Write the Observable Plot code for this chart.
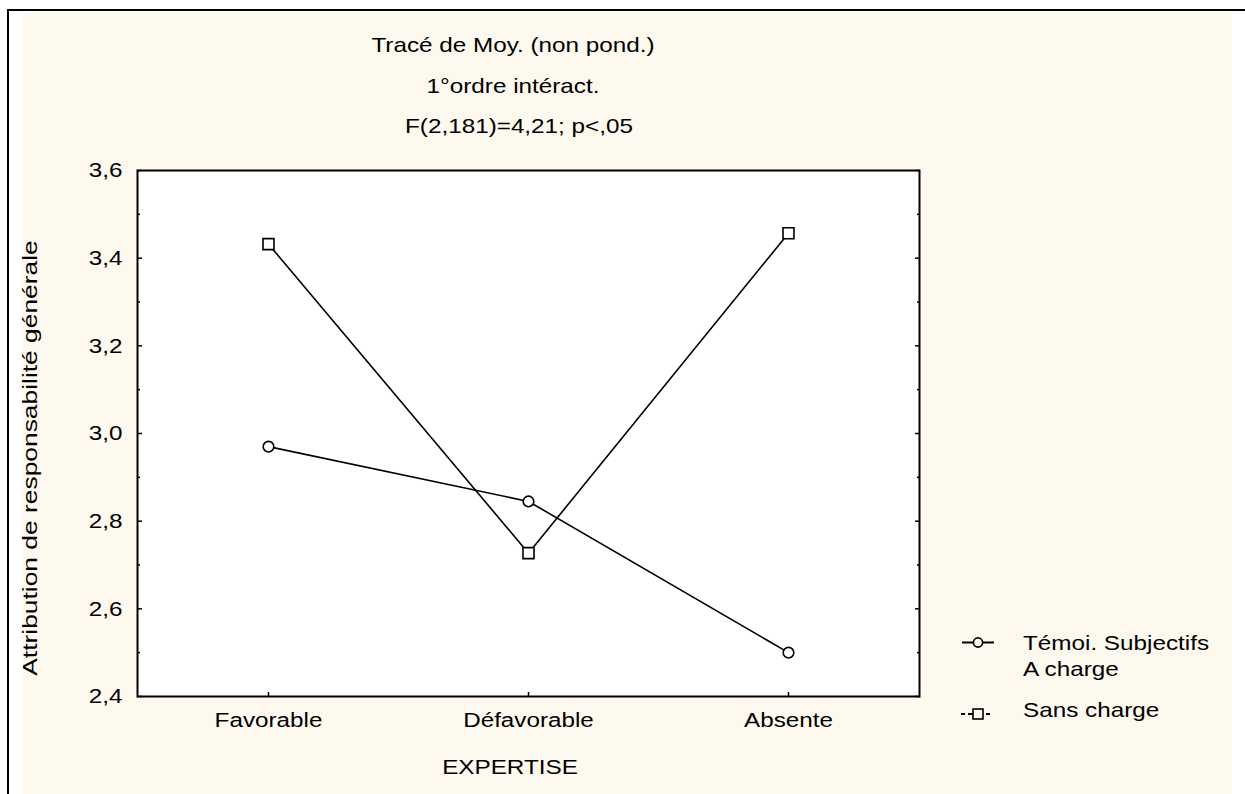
<!DOCTYPE html>
<html><head><meta charset="utf-8">
<script src="https://cdn.jsdelivr.net/npm/d3@7"></script>
<script src="https://cdn.jsdelivr.net/npm/@observablehq/plot@0.6"></script>
<style>
body{margin:0;background:#fff;font-family:"Liberation Sans",Arial,sans-serif;}
#wrap{position:relative;width:1245px;height:794px;overflow:hidden;background:#fff;}
.bd{position:absolute;background:#000;}
#cream{position:absolute;left:23px;top:13px;width:1209px;height:781px;background:#fdf9ef;}
.t{position:absolute;font-size:21px;line-height:21px;color:#000;white-space:nowrap;}
.c{transform:translateX(-50%) scaleX(1.155);}
.l{transform-origin:0 0;transform:scaleX(1.155);}
#chart{position:absolute;left:0;top:0;}
</style></head>
<body>
<div id="wrap">
  <div class="bd" style="left:7px;top:9px;width:1238px;height:2px;"></div>
  <div class="bd" style="left:7px;top:9px;width:2px;height:785px;"></div>
  <div id="cream"></div>
  <div id="chart"></div>
  <div class="t c" style="left:513px;top:34px;">Tracé de Moy. (non pond.)</div>
  <div class="t c" style="left:513px;top:75px;">1°ordre intéract.</div>
  <div class="t c" style="left:519px;top:115px;">F(2,181)=4,21; p&lt;,05</div>
  <div class="t c" style="left:510px;top:756px;">EXPERTISE</div>
  <div class="t" style="left:29px;top:458px;transform:translate(-50%,-50%) rotate(-90deg) scaleX(1.256);">Attribution de responsabilité générale</div>
  <svg style="position:absolute;left:950px;top:630px;" width="50" height="100" viewBox="950 630 50 100">
    <line x1="962" x2="994" y1="642.5" y2="642.5" stroke="#000" stroke-width="2"/>
    <circle cx="978" cy="642.5" r="4.6" fill="#fdf9ef" stroke="#000" stroke-width="1.6"/>
    <line x1="961" x2="965" y1="714" y2="714" stroke="#000" stroke-width="2"/>
    <line x1="968" x2="973" y1="714" y2="714" stroke="#000" stroke-width="2"/>
    <line x1="986" x2="990" y1="714" y2="714" stroke="#000" stroke-width="2"/>
    <rect x="973" y="709" width="10" height="10" fill="#fdf9ef" stroke="#000" stroke-width="1.6"/>
  </svg>
  <div class="t l" style="left:1023px;top:632px;">Témoi. Subjectifs</div>
  <div class="t l" style="left:1023px;top:658px;">A charge</div>
  <div class="t l" style="left:1023px;top:699px;">Sans charge</div>
</div>
<script>
const categories = ["Favorable", "Défavorable", "Absente"];
const temoiACharge = [2.97, 2.845, 2.50];
const sansCharge = [3.432, 2.727, 3.457];
const yMajorTicks = [2.4, 2.6, 2.8, 3.0, 3.2, 3.4, 3.6];
const yMinorTicks = [2.5, 2.7, 2.9, 3.1, 3.3, 3.5];

const rowsA = categories.map((c, i) => ({cat: c, v: temoiACharge[i]}));
const rowsS = categories.map((c, i) => ({cat: c, v: sansCharge[i]}));
const fmt = d => d.toFixed(1).replace(".", ",");

const chart = Plot.plot({
  width: 1245, height: 794,
  marginLeft: 137, marginRight: 326, marginTop: 170, marginBottom: 98,
  style: {background: "transparent", fontFamily: "'Liberation Sans', Arial, sans-serif", fontSize: "21px", color: "#000", overflow: "visible"},
  x: {type: "point", domain: categories, padding: 0.5, label: null},
  y: {domain: [2.4, 3.6], label: null},
  marks: [
    Plot.frame({fill: "white", stroke: null}),
    Plot.line(rowsA, {x: "cat", y: "v", stroke: "black", strokeWidth: 1.6}),
    Plot.line(rowsS, {x: "cat", y: "v", stroke: "black", strokeWidth: 1.6}),
    Plot.dot(rowsA, {x: "cat", y: "v", r: 5.3, fill: "white", stroke: "black", strokeWidth: 1.6}),
    Plot.dot(rowsS, {x: "cat", y: "v", symbol: "square", r: 6.2, fill: "white", stroke: "black", strokeWidth: 1.6}),
    Plot.frame({stroke: "black", strokeWidth: 2}),
    Plot.axisY(yMajorTicks, {anchor: "left", tickSize: -5, tickPadding: 20, tickFormat: fmt, label: null, stroke: "black", strokeWidth: 1.5}),
    Plot.axisY(yMinorTicks, {anchor: "left", tickSize: -3, tickFormat: () => "", label: null, stroke: "black", strokeWidth: 1.5}),
    Plot.axisY(yMajorTicks, {anchor: "right", tickSize: -5, tickFormat: () => "", label: null, stroke: "black", strokeWidth: 1.5}),
    Plot.axisY(yMinorTicks, {anchor: "right", tickSize: -3, tickFormat: () => "", label: null, stroke: "black", strokeWidth: 1.5}),
    Plot.axisX(categories, {anchor: "bottom", tickSize: -4, tickPadding: 20, label: null, stroke: "black", strokeWidth: 1.5})
  ]
});
document.getElementById("chart").appendChild(chart);

// widen tick labels to match the reference's wide lettering
chart.querySelectorAll('g[aria-label$="tick label"] text').forEach(el => {
  const t = el.getAttribute("transform");
  if (t) {
    el.setAttribute("transform", t + " scale(1.155,1)");
  } else {
    const x = +el.getAttribute("x") || 0, y = +el.getAttribute("y") || 0;
    el.removeAttribute("x"); el.removeAttribute("y");
    el.setAttribute("transform", `translate(${x},${y}) scale(1.155,1)`);
  }
});
</script>
</body></html>
